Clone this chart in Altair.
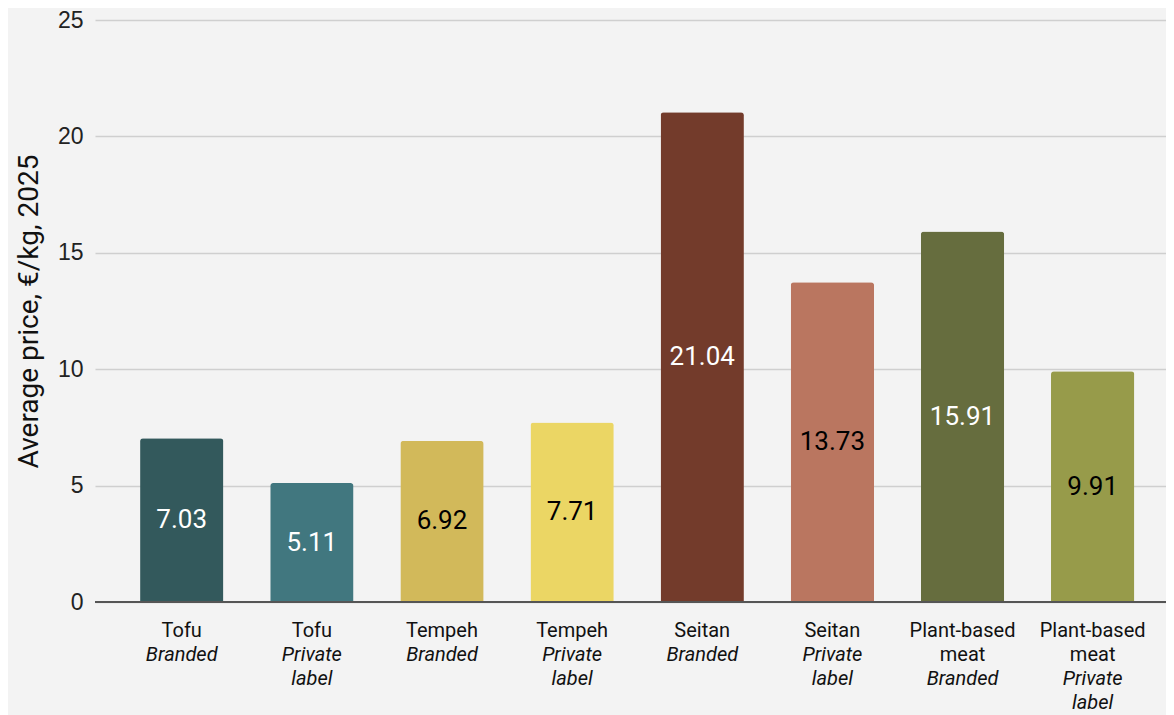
import altair as alt
import pandas as pd

categories = ["Tofu", "Tofu", "Tempeh", "Tempeh", "Seitan", "Seitan", "Plant-based\nmeat", "Plant-based\nmeat"]
types = ["Branded", "Private\nlabel", "Branded", "Private\nlabel", "Branded", "Private\nlabel", "Branded", "Private\nlabel"]
values = [7.03, 5.11, 6.92, 7.71, 21.04, 13.73, 15.91, 9.91]
colors = ["#33595c", "#41777f", "#d2b95a", "#ebd664", "#733b2b", "#ba7660", "#666d3e", "#979b4a"]
label_colors = ["white", "white", "black", "black", "white", "black", "white", "black"]

keys = [f"k{i}" for i in range(len(values))]

df = pd.DataFrame({
    "key": keys,
    "cat": categories,
    "type": types,
    "nlines": [c.count("\n") + 1 for c in categories],
    "value": values,
    "color": colors,
    "lc": label_colors,
    "label": [f"{v:.2f}" for v in values],
})

yscale = alt.Scale(domain=[0, 25], nice=False, zero=True)
xscale = alt.Scale(paddingInner=0.36, paddingOuter=0.295, align=0.587)
x = alt.X("key:N", scale=xscale, axis=alt.Axis(labels=False, ticks=False, title=None,
                                               domain=False), sort=keys)

base = alt.Chart(df)

bars = base.mark_bar(cornerRadiusTopLeft=3, cornerRadiusTopRight=3).encode(
    x=x,
    y=alt.Y("value:Q", scale=yscale,
            axis=alt.Axis(values=[0, 5, 10, 15, 20, 25], title="Average price, €/kg, 2025",
                          titleFont="Roboto", titleFontSize=28, titleFontWeight="normal",
                          titleColor="#111", titlePadding=14,
                          labelFont="Liberation Sans", labelFontSize=23, labelColor="#222",
                          labelPadding=12, ticks=False, domain=False,
                          gridColor="#cfcfcf", gridWidth=1.5)),
    color=alt.Color("color:N", scale=None),
)

zero = base.mark_rule(color="#555555", strokeWidth=2).encode(
    y=alt.Y("z:Q", scale=yscale), x=alt.value(0), x2=alt.value(1071)
).transform_calculate(z="0")

labels = base.transform_calculate(mid="datum.value / 2").mark_text(
    font="Roboto", fontSize=26, baseline="middle", align="center"
).encode(
    x=x, y=alt.Y("mid:Q", scale=yscale), text="label:N", color=alt.Color("lc:N", scale=None)
)

LH = 24
catlabels = base.mark_text(
    font="Roboto", fontSize=20, baseline="middle", align="center", lineBreak="\n",
    lineHeight=LH, color="#111"
).encode(x=x, y=alt.value(611), text="cat:N")

type1 = base.transform_filter("datum.nlines == 1").mark_text(
    font="Roboto", fontStyle="italic", fontSize=20, baseline="middle", align="center",
    lineBreak="\n", lineHeight=LH, color="#111"
).encode(x=x, y=alt.value(611 + LH), text="type:N")

type2 = base.transform_filter("datum.nlines == 2").mark_text(
    font="Roboto", fontStyle="italic", fontSize=20, baseline="middle", align="center",
    lineBreak="\n", lineHeight=LH, color="#111"
).encode(x=x, y=alt.value(611 + 2 * LH), text="type:N")

chart = alt.layer(bars, zero, labels, catlabels, type1, type2).properties(
    width=1071, height=582,
    autosize=alt.AutoSizeParams(type="none"),
    padding={"left": 87, "top": 12, "right": 0, "bottom": 113},
    background="#f3f3f3",
).configure_view(stroke=None)

chart.save("out.html", embed_options={"renderer": "svg", "actions": False})
